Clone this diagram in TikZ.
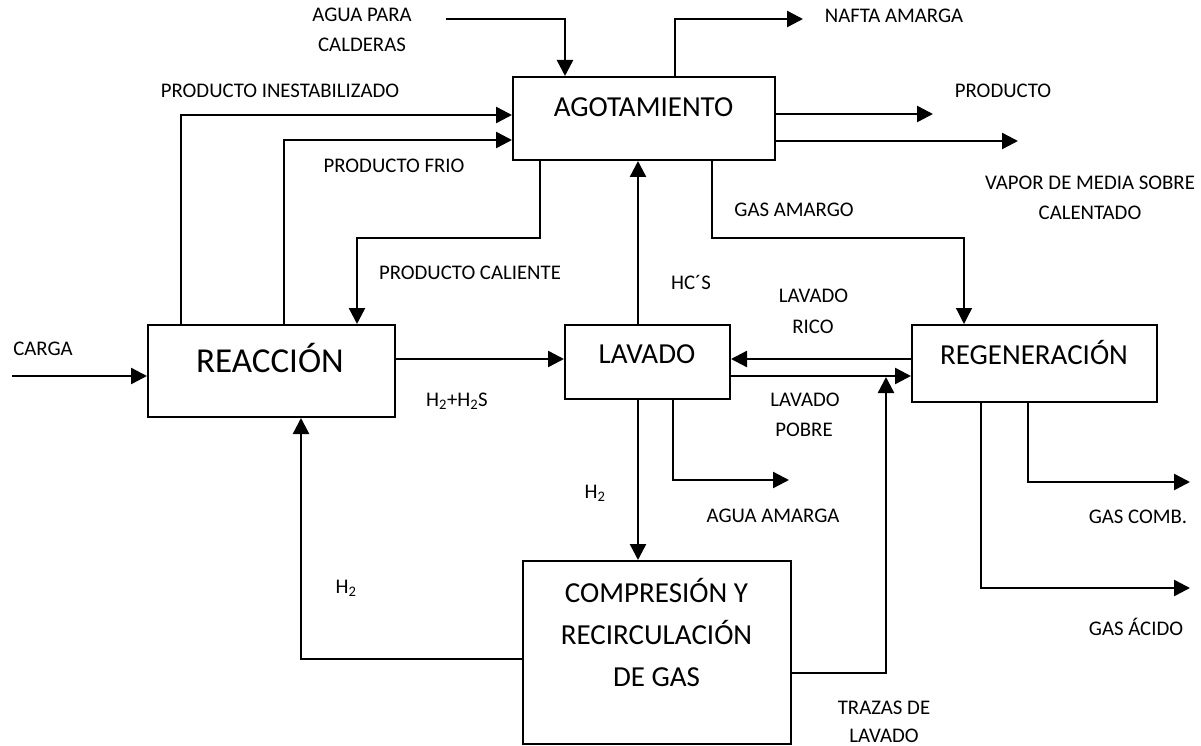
\documentclass[tikz,border=0pt]{standalone}
\usepackage{fontspec}
\setmainfont{Carlito}
\usetikzlibrary{arrows.meta}
\begin{document}
\begin{tikzpicture}[x=1pt,y=-1pt,
  box/.style={draw, line width=2pt, inner sep=0pt},
  arr/.style={line width=2.4pt, -{Triangle[length=16pt,width=16pt]}},
  thinarr/.style={line width=1.3pt, -{Triangle[length=16pt,width=16pt]}},
  lbl/.style={font=\fontsize{20.8}{25}\selectfont, inner sep=0pt, text height=13.4pt, text depth=0pt},
  big/.style={font=\fontsize{29}{35}\selectfont, inner sep=0pt, text height=18.7pt, text depth=0pt},
  huge/.style={font=\fontsize{35}{42}\selectfont, inner sep=0pt, text height=22.5pt, text depth=0pt}]
\useasboundingbox (0,0) rectangle (1201,746);
% boxes
\node[box, minimum width=262pt, minimum height=83pt] (agot) at (644,118.5) {};
\node[big] (agotT) at (643.5,107) {AGOTAMIENTO};
\node[box, minimum width=247pt, minimum height=92pt] (reac) at (271.5,371) {};
\node[huge] (reacT) at (270,361) {REACCIÓN};
\node[box, minimum width=165pt, minimum height=74pt] (lav) at (647.5,362) {};
\node[big] (lavT) at (647,354.5) {LAVADO};
\node[box, minimum width=245pt, minimum height=77pt] (regen) at (1034.5,363.5) {};
\node[big] (regenT) at (1034,355) {REGENERACIÓN};
\node[box, minimum width=268pt, minimum height=183pt] (comp) at (657,652.5) {};
\node[big] (compT1) at (656.5,593) {COMPRESIÓN Y};
\node[big] (compT2) at (656.5,635) {RECIRCULACIÓN};
\node[big] (compT3) at (656.5,677) {DE GAS};
% free ends
\coordinate (aguaS) at (446,19);
\coordinate (naftaE) at (803,19);
\coordinate (prodE) at (933,114);
\coordinate (vaporE) at (1018,141);
\coordinate (cargaS) at (12,376);
\coordinate (aguaAmE) at (789,480);
\coordinate (combE) at (1190,482);
\coordinate (acidoE) at (1190,588);
\coordinate (calB) at (357,238);
\coordinate (gasB) at (964,238);
\coordinate (trazE) at (886,377);
% connectors
\draw[arr] (aguaS) -| ([xshift=53pt]agot.north west);
\draw[arr] ([xshift=163pt]agot.north west) |- (naftaE);
\draw[arr] ([xshift=34pt]reac.north west) |- (agot.west |- 0,115);
\draw[arr] ([xshift=137pt]reac.north west) |- (agot.west |- 0,140);
\draw[arr] ([xshift=28pt]agot.south west) |- (calB) -- (reac.north -| calB);
\draw[arr] (agot.east |- prodE) -- (prodE);
\draw[arr] (agot.east |- vaporE) -- (vaporE);
\draw[thinarr] ([xshift=200pt]agot.south west) |- (gasB) -- (regen.north -| gasB);
\draw[arr] ([xshift=74pt]lav.north west) -- ([xshift=126pt]agot.south west);
\draw[arr] (cargaS) -- (reac.west |- cargaS);
\draw[arr] (reac.east |- 0,359) -- (lav.west |- 0,359);
\draw[arr] (regen.west |- 0,359) -- (lav.east |- 0,359);
\draw[arr] (lav.east |- 0,376) -- (regen.west |- 0,376);
\draw[arr] ([xshift=74pt]lav.south west) -- ([xshift=116pt]comp.north west);
\draw[arr] ([xshift=109pt]lav.south west) |- (aguaAmE);
\draw[arr] (comp.west |- 0,659) -| ([xshift=154pt]reac.south west);
\draw[arr] (comp.east |- 0,673) -| (trazE);
\draw[arr] ([xshift=70pt]regen.south west) |- (acidoE);
\draw[arr] ([xshift=117pt]regen.south west) |- (combE);
% labels
\node[lbl] (l1) at (362,15) {AGUA PARA};
\node[lbl] (l2) at (362,45) {CALDERAS};
\node[lbl] (l3) at (894,16) {NAFTA AMARGA};
\node[lbl] (l4) at (280,90.5) {PRODUCTO INESTABILIZADO};
\node[lbl] (l5) at (394,166) {PRODUCTO FRIO};
\node[lbl] (l6) at (470,272.5) {PRODUCTO CALIENTE};
\node[lbl] (l7) at (1003,90.5) {PRODUCTO};
\node[lbl] (l8) at (1090,183) {VAPOR DE MEDIA SOBRE};
\node[lbl] (l9) at (1090,213) {CALENTADO};
\node[lbl] (l10) at (794,210) {GAS AMARGO};
\node[lbl] (l11) at (691,283) {HC´S};
\node[lbl] (l12) at (813.5,296) {LAVADO};
\node[lbl] (l13) at (813,327) {RICO};
\node[lbl] (l14) at (43,349) {CARGA};
\node[lbl] (l15) at (457,400) {H\textsubscript{2}+H\textsubscript{2}S};
\node[lbl] (l16) at (805,400) {LAVADO};
\node[lbl] (l17) at (804,430) {POBRE};
\node[lbl] (l18) at (595,492) {H\textsubscript{2}};
\node[lbl] (l19) at (773,515.5) {AGUA AMARGA};
\node[lbl] (l20) at (346,587) {H\textsubscript{2}};
\node[lbl] (l21) at (1138,516.5) {GAS COMB.};
\node[lbl] (l22) at (1136,629) {GAS ÁCIDO};
\node[lbl] (l23) at (884,708) {TRAZAS DE};
\node[lbl] (l24) at (884,736) {LAVADO};
\end{tikzpicture}
\end{document}
